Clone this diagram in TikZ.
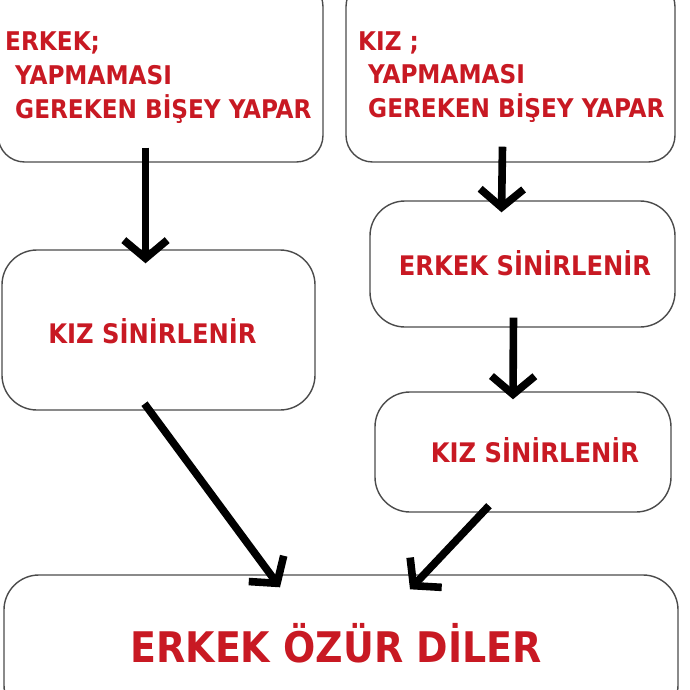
\documentclass[tikz,border=0pt]{standalone}
\usepackage{fontspec}
\setmainfont{DejaVu Sans Condensed}
\usetikzlibrary{arrows.meta,calc}

\definecolor{yazikirmizi}{RGB}{200,25,35}
\definecolor{cerceve}{RGB}{75,75,75}

\begin{document}
\begin{tikzpicture}[x=0.03cm,y=-0.03cm]

\tikzset{
    kutu/.style={draw=cerceve,line width=1.2pt,rounded corners=#1,inner sep=0pt},
    yazi/.style={text=yazikirmizi,inner sep=0pt,font=\fontsize{22}{26}\selectfont\bfseries},
    orta/.style={yazi,anchor=base,font=\fontsize{23}{27}\selectfont\bfseries},
    ok/.style={line width=6.5pt,-{Straight Barb[angle=100:0.85cm]}}}

\clip (0,0) rectangle (690,690);

% kutular
\node[kutu=0.8cm, minimum width=9.75cm, minimum height=5.46cm] (A) at (160.5,71) {};
\node[kutu=0.8cm, minimum width=9.87cm, minimum height=5.46cm] (B) at (510.5,71) {};
\node[kutu=1.05cm, minimum width=9.39cm, minimum height=4.8cm] (C) at (158.5,330) {};
\node[kutu=1.05cm, minimum width=9.15cm, minimum height=3.78cm] (D) at (522.5,264) {};
\node[kutu=1.05cm, minimum width=8.88cm, minimum height=3.6cm] (E) at (523,452) {};
\node[kutu=1.05cm, minimum width=20.22cm, minimum height=4.35cm] (F) at (341,647.5) {};

% yazilar
\node[yazi, anchor=base west] (A1) at (5,50) {ERKEK;};
\node[yazi, anchor=base west] (A2) at (15,84) {YAPMAMASI};
\node[yazi, anchor=base west] (A3) at (15,118) {GEREKEN BİŞEY YAPAR};

\node[yazi, anchor=base west] (B1) at (358,50) {KIZ ;};
\node[yazi, anchor=base west] (B2) at (368,83) {YAPMAMASI};
\node[yazi, anchor=base west] (B3) at (368,117) {GEREKEN BİŞEY YAPAR};

\node[orta] (C1) at (152.5,343) {KIZ SİNİRLENİR};
\node[orta] (D1) at (525,275) {ERKEK SİNİRLENİR};
\node[orta] (E1) at (535,462) {KIZ SİNİRLENİR};
\node[yazi, anchor=base, font=\fontsize{36}{40}\selectfont\bfseries] (F1) at (336,662) {ERKEK ÖZÜR DİLER};

% oklar
\draw[ok] ($(A.south)+(-15,-15)$) -- ($(C.north)+(-13,14)$);
\draw[ok] ($(B.south)+(-8,-16)$) -- ($(D.north)+(-21,12)$);
\draw[ok] ($(D.south)+(-9,-10)$) -- ($(E.north)+(-10,8)$);
\draw[ok] ($(C.south)+(-14,-7)$) -- ($(F.north)+(-61,13)$);
\draw[ok] ($(E.south)+(-34,-7)$) -- ($(F.north)+(69,15)$);

\end{tikzpicture}
\end{document}
